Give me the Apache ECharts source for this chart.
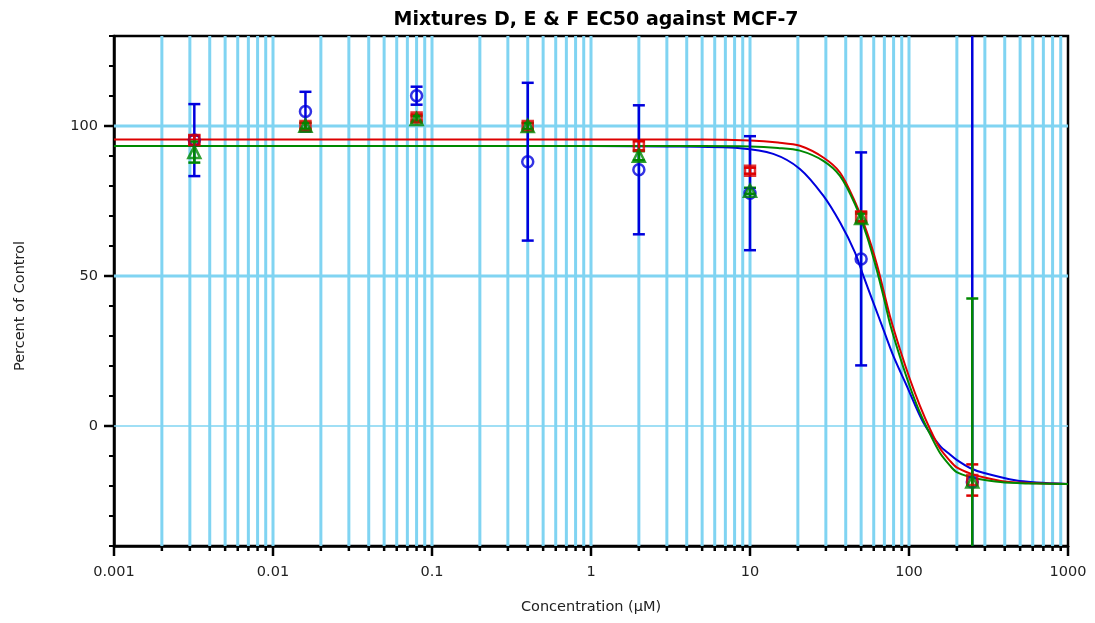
<!DOCTYPE html>
<html><head><meta charset="utf-8">
<script src="https://cdn.jsdelivr.net/npm/echarts@6/dist/echarts.min.js"></script>
<style>html,body{margin:0;padding:0;background:#fff}#c{width:1095px;height:623px}</style>
</head><body><div id="c"></div>
<script>
// ---- data ----
const concentrations = [0.0032, 0.016, 0.08, 0.4, 2, 10, 50, 250];
const blueMeans  = [95.3, 104.8, 110.1, 88.1, 85.4, 77.6, 55.7, -18.7];
const blueErrors = [12, 6.6, 3, 26.3, 21.5, 19, 35.5, 160];
const redMeans   = [95.3, 100, 102.8, 100, 93.4, 85.1, 69.8, -18];
const redErrors  = [1.5, 1, 1, 1, 1.5, 1, 1.5, 5.2];
const greenMeans = [91.3, 100.1, 102.3, 100, 90.1, 78.4, 69.3, -18.5];
const greenErrors= [3.5, 1, 1, 1, 1.5, 1, 1.5, 61];

const blueCurveX = [0.001, 1, 3, 8.65, 14, 20.6, 28.9, 36.8, 45.7, 51.6, 59.6, 68.9, 79.7, 96.8, 123, 156.7, 181, 199.5, 242, 293, 475, 635, 1000];
const blueCurveY = [93.3, 93.3, 93.2, 92.6, 90.7, 85.7, 76.8, 67.9, 57.9, 50.1, 41.2, 32.3, 23.4, 13.4, 1.2, -6.6, -9.5, -11.3, -14.0, -15.6, -18.2, -18.8, -19.3];
const redCurveX = [0.001, 1, 5, 10, 15, 20.6, 28.9, 36.8, 45.7, 54.2, 62.7, 70, 76, 87.8, 101.5, 117, 135.5, 156.7, 181, 199.5, 242, 293, 400, 635, 1000];
const redCurveY = [95.5, 95.5, 95.5, 95.2, 94.5, 93.4, 89.5, 84.5, 74.8, 64.8, 54, 44, 36.5, 25.5, 15.5, 6.8, -1, -7.5, -11.6, -13.8, -15.8, -17.1, -18.5, -19.1, -19.3];
const greenCurveX = [0.001, 1, 5, 10, 15, 20.6, 28.9, 36.8, 45.7, 54.2, 62.7, 70, 76, 87.8, 101.5, 117, 135.5, 156.7, 181, 199.5, 242, 293, 400, 635, 1000];
const greenCurveY = [93.3, 93.3, 93.3, 93.2, 92.7, 91.8, 88.4, 83.4, 74, 63.5, 52, 42, 34, 23, 13, 4.5, -2.7, -9, -13.2, -15.4, -17, -17.9, -18.8, -19.2, -19.3];

const xTickValues = [0.001, 0.01, 0.1, 1, 10, 100, 1000];
const xTickLabels = ['0.001', '0.01', '0.1', '1', '10', '100', '1000'];
const xMinorMultipliers = [2, 3, 4, 5, 6, 7, 8, 9];
const yLabelValues = [0, 50, 100];
const yGridValues = [0, 50, 100];

// ---- derived ----
const X_MIN = 0.001, X_MAX = 1000, Y_MIN = -40, Y_MAX = 130;
const gridColor = '#80d4f2';
const BLUE = '#0000dd', RED = '#dd0000', GREEN = '#008800';
const FONT = '"DejaVu Sans", Verdana, sans-serif';

const minorX = [];
xTickValues.slice(0, -1).forEach(d => xMinorMultipliers.forEach(m => minorX.push(+(d * m).toPrecision(6))));
const vGridVals = minorX.concat(xTickValues.slice(1, -1));

function zip(a, b) { return a.map((v, i) => [v, b[i]]); }
function errData(means, errs) { return concentrations.map((c, i) => [c, means[i], errs[i]]); }

function errorSeries(means, errs, color, z) {
  return {
    type: 'custom', coordinateSystem: 'cartesian2d', clip: true, silent: true, z: z,
    data: errData(means, errs), encode: { x: 0, y: 1 },
    renderItem: (p, api) => {
      const x = api.value(0), m = api.value(1), e = api.value(2);
      const hi = api.coord([x, m + e]), lo = api.coord([x, m - e]);
      const w = 6;
      const st = { stroke: color, lineWidth: 2.5 };
      return { type: 'group', children: [
        { type: 'line', shape: { x1: hi[0], y1: hi[1], x2: lo[0], y2: lo[1] }, style: st },
        { type: 'line', shape: { x1: hi[0] - w, y1: hi[1], x2: hi[0] + w, y2: hi[1] }, style: st },
        { type: 'line', shape: { x1: lo[0] - w, y1: lo[1], x2: lo[0] + w, y2: lo[1] }, style: st }
      ]};
    }
  };
}
function curveSeries(xs, ys, color, z) {
  return { type: 'line', data: zip(xs, ys), smooth: 0.3, showSymbol: false, silent: true, z: z,
    lineStyle: { color: color, width: 2 }, clip: true };
}
function markerSeries(means, symbol, size, color, z) {
  return { type: 'scatter', data: zip(concentrations, means), symbol: symbol, symbolSize: size, silent: true, z: z,
    itemStyle: { color: 'rgba(255,255,255,0)', borderColor: color, borderWidth: 2.5 } };
}

const chart = echarts.init(document.getElementById('c'), null, { renderer: 'canvas' });
chart.setOption({
  animation: false,
  backgroundColor: '#fff',
  title: { text: 'Mixtures D, E & F EC50 against MCF-7', left: 591, top: 6, textAlign: 'center',
    textStyle: { fontFamily: FONT, fontSize: 19, fontWeight: 'bold', color: '#000' } },
  grid: { left: 114, right: 27, top: 36, bottom: 77, show: true, borderColor: '#000', borderWidth: 2.5, backgroundColor: '#fff' },
  xAxis: {
    type: 'log', logBase: 10, min: X_MIN, max: X_MAX,
    name: 'Concentration (µM)', nameLocation: 'middle', nameGap: 54,
    nameTextStyle: { fontFamily: FONT, fontSize: 14.5, color: '#222' },
    axisLine: { onZero: false, lineStyle: { color: '#000', width: 2.5 } },
    axisTick: { show: false },
    splitLine: { show: false },
    axisLabel: { margin: 19, fontFamily: FONT, fontSize: 14.5, color: '#222',
      formatter: (v, i) => xTickLabels[i] !== undefined ? xTickLabels[i] : '' }
  },
  yAxis: {
    type: 'value', min: Y_MIN, max: Y_MAX, interval: 10,
    name: 'Percent of Control', nameLocation: 'middle', nameGap: 86, nameRotate: 90,
    nameTextStyle: { fontFamily: FONT, fontSize: 14.5, color: '#222', padding: [0, 30, 0, 0] },
    axisLine: { show: true, onZero: false, lineStyle: { color: '#000', width: 2.5 } },
    axisTick: { show: true, length: 5, lineStyle: { color: '#000', width: 2 } },
    splitLine: { show: false },
    axisLabel: { margin: 16, fontFamily: FONT, fontSize: 14.5, color: '#222',
      formatter: v => yLabelValues.indexOf(v) >= 0 ? String(v) : '' }
  },
  series: [
    { // vertical grid lines
      type: 'custom', coordinateSystem: 'cartesian2d', silent: true, z: 1, clip: true,
      data: vGridVals.map(v => [v, 0]), encode: { x: 0, y: 1 },
      renderItem: (p, api) => {
        const t = api.coord([api.value(0), Y_MAX]), b = api.coord([api.value(0), Y_MIN]);
        return { type: 'line', shape: { x1: t[0], y1: t[1], x2: b[0], y2: b[1] }, style: { stroke: gridColor, lineWidth: 3 } };
      }
    },
    { // horizontal grid lines
      type: 'custom', coordinateSystem: 'cartesian2d', silent: true, z: 1, clip: true,
      data: yGridValues.map(v => [1, v]), encode: { x: 0, y: 1 },
      renderItem: (p, api) => {
        const y = api.value(1);
        const l = api.coord([X_MIN, y]), r = api.coord([X_MAX, y]);
        return { type: 'line', shape: { x1: l[0], y1: l[1], x2: r[0], y2: r[1] }, style: { stroke: gridColor, lineWidth: y === 0 ? 1.5 : 3 } };
      }
    },
    { // x ticks (major + minor)
      type: 'custom', coordinateSystem: 'cartesian2d', silent: true, z: 5, clip: false,
      data: xTickValues.map(v => [v, 1]).concat(minorX.map(v => [v, 0])), encode: { x: 0, y: 1 },
      renderItem: (p, api) => {
        const b = api.coord([api.value(0), Y_MIN]);
        const len = api.value(1) === 1 ? 10 : 5;
        return { type: 'line', shape: { x1: b[0], y1: b[1], x2: b[0], y2: b[1] + len }, style: { stroke: '#000', lineWidth: 2.5 } };
      }
    },
    { // y major ticks
      type: 'custom', coordinateSystem: 'cartesian2d', silent: true, z: 5, clip: false,
      data: yLabelValues.map(v => [X_MIN, v]), encode: { x: 0, y: 1 },
      renderItem: (p, api) => {
        const a = api.coord([X_MIN, api.value(1)]);
        return { type: 'line', shape: { x1: a[0] - 10, y1: a[1], x2: a[0], y2: a[1] }, style: { stroke: '#000', lineWidth: 2.5 } };
      }
    },
    curveSeries(blueCurveX, blueCurveY, BLUE, 3),
    curveSeries(redCurveX, redCurveY, RED, 3),
    curveSeries(greenCurveX, greenCurveY, GREEN, 3),
    errorSeries(blueMeans, blueErrors, BLUE, 4),
    errorSeries(redMeans, redErrors, RED, 4),
    errorSeries(greenMeans, greenErrors, GREEN, 4),
    markerSeries(blueMeans, 'circle', 11, BLUE, 6),
    markerSeries(redMeans, 'rect', 10, RED, 6),
    markerSeries(greenMeans, 'triangle', 12, GREEN, 6)
  ]
});
</script>
</body></html>
